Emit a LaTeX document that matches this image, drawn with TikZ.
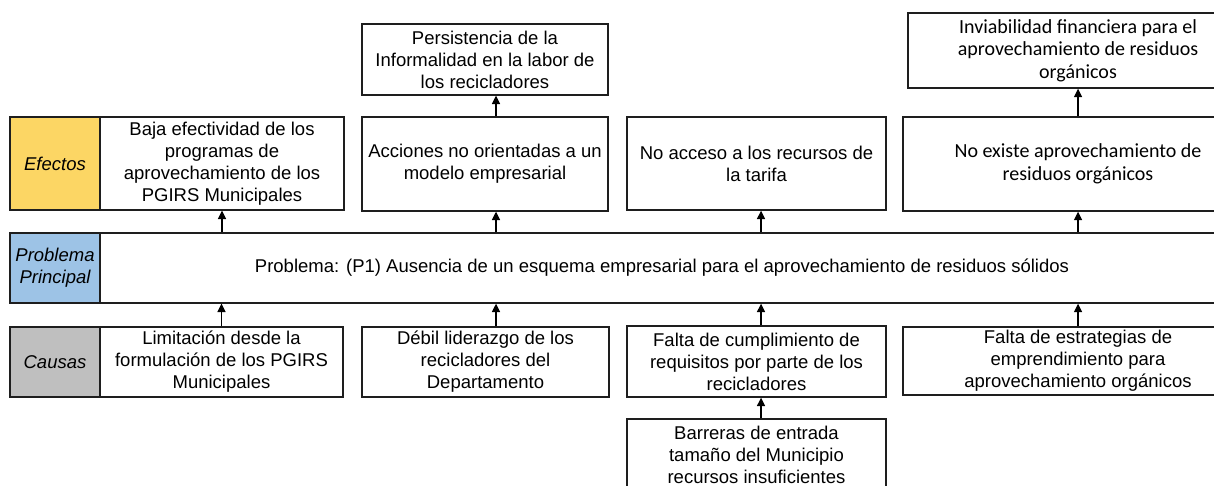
\documentclass[tikz,border=0pt]{standalone}
\usepackage{fontspec}
\setmainfont{Liberation Sans}
\newfontfamily\calib{Carlito}
\usetikzlibrary{arrows.meta}
\definecolor{efy}{RGB}{252,214,100}
\definecolor{ppb}{RGB}{157,195,230}
\definecolor{cag}{RGB}{191,191,191}
\definecolor{edge}{RGB}{30,30,30}
\tikzset{
  box/.style={draw=edge, line width=1.3pt, fill=white, align=center, inner sep=0pt,
    font=\fontsize{18.5}{22}\selectfont},
  cbox/.style={box, font=\calib\fontsize{20}{22.5}\selectfont},
  lab/.style={box, font=\itshape\fontsize{18.5}{22}\selectfont},
  arr/.style={draw=black, line width=1.5pt, -{Triangle[width=8pt,length=8.5pt]}},
}
\begin{document}
\begin{tikzpicture}[x=1pt,y=-1pt]
\useasboundingbox (0,0) rectangle (1214,486);
\clip (0,0) rectangle (1214,486);
\fill[white] (0,0) rectangle (1214,486);
% labels
\node[lab, fill=efy, minimum width=90pt, minimum height=93pt] (lE) at (55,163.5) {Efectos};
\node[lab, fill=ppb, minimum width=90pt, minimum height=70pt] (lP) at (55,268) {Problema\\Principal};
\node[lab, fill=cag, minimum width=90pt, minimum height=70pt] (lC) at (55,362) {Causas};
% problem
\node[box, minimum width=1124pt, minimum height=70pt] (P) at (662,268)
  {Problema: (P1) Ausencia de un esquema empresarial para el aprovechamiento de residuos sólidos};
% effects
\node[box, minimum width=244pt, minimum height=93pt] (e1) at (222,163.5)
  {Baja efectividad de los\\programas de\\aprovechamiento de los\\PGIRS Municipales};
\node[box, minimum width=246pt, minimum height=94pt] (e2) at (485,164)
  {Acciones no orientadas a un\\modelo empresarial};
\node[box, minimum width=259pt, minimum height=93pt] (e3) at (756.5,163.5)
  {No acceso a los recursos de\\la tarifa};
\node[cbox, minimum width=350pt, minimum height=94pt] (e4) at (1078,164)
  {No existe aprovechamiento de\\residuos orgánicos};
\node[box, minimum width=246pt, minimum height=71pt] (t2) at (485,59.5)
  {Persistencia de la\\Informalidad en la labor de\\los recicladores};
\node[cbox, minimum width=340pt, minimum height=75pt] (t4) at (1078,50.5)
  {Inviabilidad financiera para el\\aprovechamiento de residuos\\orgánicos};
% causes
\node[box, minimum width=243pt, minimum height=70pt] (c1) at (221.5,362)
  {Limitación desde la\\formulación de los PGIRS\\Municipales};
\node[box, minimum width=247pt, minimum height=70pt] (c2) at (485.5,362)
  {Débil liderazgo de los\\recicladores del\\Departamento};
\node[box, minimum width=259pt, minimum height=71pt] (c3) at (756.5,361.5)
  {Falta de cumplimiento de\\requisitos por parte de los\\recicladores};
\node[box, minimum width=350pt, minimum height=68pt] (c4) at (1078,361)
  {Falta de estrategias de\\emprendimiento para\\aprovechamiento orgánicos};
\node[box, minimum width=259pt, minimum height=72pt] (b3) at (756.5,455)
  {Barreras de entrada\\tamaño del Municipio\\recursos insuficientes};
% arrows
\draw[arr] (e1.south |- P.north) -- (e1.south);
\draw[arr] ([xshift=11pt]e2.south |- P.north) -- ([xshift=11pt]e2.south);
\draw[arr] ([xshift=4.5pt]e3.south |- P.north) -- ([xshift=4.5pt]e3.south);
\draw[arr] (e4.south |- P.north) -- (e4.south);
\draw[arr] ([xshift=11pt]e2.north) -- ([xshift=11pt]e2.north |- t2.south);
\draw[arr] (e4.north) -- (e4.north |- t4.south);
\draw[arr] (c1.north) -- (c1.north |- P.south);
\draw[arr] ([xshift=10.5pt]c2.north) -- ([xshift=10.5pt]c2.north |- P.south);
\draw[arr] ([xshift=4.5pt]c3.north) -- ([xshift=4.5pt]c3.north |- P.south);
\draw[arr] (c4.north) -- (c4.north |- P.south);
\draw[arr] ([xshift=4.5pt]b3.north) -- ([xshift=4.5pt]b3.north |- c3.south);
\end{tikzpicture}
\end{document}
